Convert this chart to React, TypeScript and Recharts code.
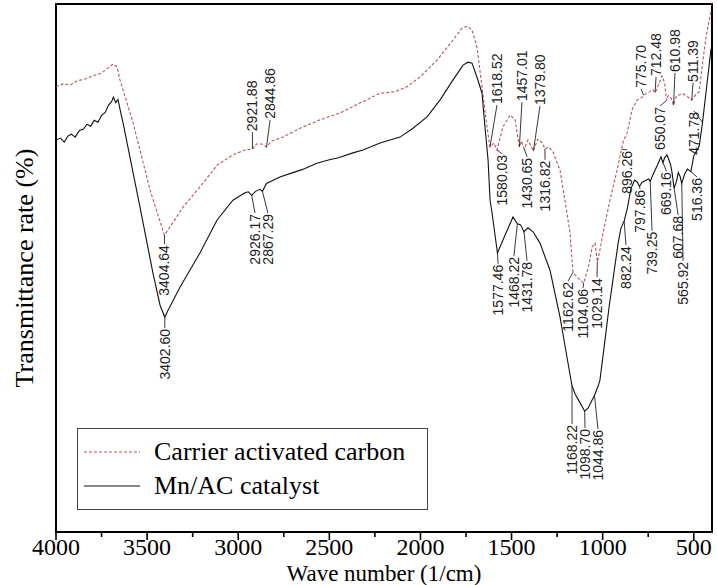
import { LineChart, Line, XAxis, YAxis, ReferenceArea, ReferenceLine, ReferenceDot, Legend } from 'recharts';

// FTIR spectra, wave number (1/cm) against transmittance (arbitrary %)
const carrierWn = [
  4000, 3960, 3920, 3885, 3840, 3797, 3750, 3715, 3687, 3665, 3649, 3577, 3484, 3405, 3374, 3303, 3210,
  3116, 3029, 2963, 2922, 2900, 2870, 2845, 2815, 2754, 2661, 2551, 2441, 2332, 2222, 2140, 2074, 2002,
  1909, 1821, 1772, 1744, 1717, 1690, 1662, 1635, 1618.5, 1597, 1580, 1547, 1508, 1481, 1457, 1445, 1431,
  1410, 1380, 1356, 1330, 1317, 1295, 1273, 1234, 1196, 1179, 1163, 1135, 1104, 1075, 1058, 1042, 1029,
  1015, 998, 960, 921, 896, 885, 866, 839, 811, 784, 776, 757, 724, 712, 690, 674, 660, 650, 640, 623, 611,
  595, 560, 535, 511, 490, 470, 450, 430, 405,
];
const carrierT = [
  83.2, 83.8, 83.6, 84.4, 84.8, 85.4, 86.0, 87.0, 87.8, 87.2, 84.6, 75.9, 62.3, 53.1, 54.8, 58.8, 62.9,
  67.3, 69.4, 70.4, 70.6, 71.6, 71.6, 71.0, 72.2, 73.0, 74.8, 76.5, 77.9, 79.9, 81.9, 82.2, 83.2, 85.2,
  88.6, 92.7, 95.1, 95.5, 94.7, 91.3, 83.2, 75.1, 71.0, 71.8, 70.4, 75.1, 77.5, 76.5, 71.0, 72.2, 70.6,
  72.4, 70.2, 72.6, 71.8, 70.6, 71.0, 70.0, 66.3, 57.6, 53.5, 45.6, 44.4, 43.4, 47.1, 50.7, 51.5, 47.7,
  50.1, 53.5, 60.2, 66.3, 70.6, 72.4, 73.8, 78.5, 80.5, 81.1, 81.5, 81.9, 82.6, 82.0, 84.0, 85.4, 84.0,
  80.4, 81.4, 80.8, 79.5, 81.4, 81.8, 81.2, 80.5, 81.6, 82.2, 88.6, 94.0, 98.5,
];

const catalystWn = [
  4000, 3975, 3955, 3935, 3915, 3895, 3870, 3850, 3830, 3810, 3790, 3770, 3750, 3730, 3710, 3695, 3685,
  3672, 3660, 3645, 3632, 3539, 3468, 3429, 3403, 3385, 3319, 3210, 3116, 3029, 2963, 2945, 2926, 2905,
  2880, 2867, 2845, 2771, 2700, 2650, 2568, 2500, 2450, 2370, 2315, 2222, 2112, 2041, 1964, 1893, 1821,
  1766, 1739, 1717, 1690, 1662, 1646, 1629, 1618, 1607, 1577.5, 1536, 1492, 1468, 1450, 1432, 1410, 1382,
  1344, 1289, 1234, 1196, 1168, 1150, 1130, 1099, 1080, 1060, 1045, 1025, 1015, 990, 965, 940, 915, 900,
  882, 865, 845, 825, 810, 798, 785, 765, 748, 739, 725, 700, 680, 669, 660, 647, 628, 620, 608, 595, 585,
  575, 566, 550, 535, 516, 500, 482, 470, 452, 430, 405,
];
const catalystT = [
  72.4, 72.8, 72.0, 73.2, 73.6, 73.0, 74.4, 74.6, 75.6, 75.2, 76.4, 76.0, 77.4, 78.0, 79.6, 80.2, 81.1,
  80.0, 80.6, 78.0, 75.9, 58.8, 45.4, 38.9, 36.5, 37.9, 42.6, 49.5, 56.2, 60.2, 61.7, 61.9, 61.2, 62.0,
  62.4, 62.0, 63.6, 64.9, 65.8, 66.4, 67.7, 68.4, 68.8, 69.8, 70.4, 71.8, 73.0, 74.8, 77.1, 80.5, 84.6,
  87.6, 88.2, 88.0, 85.2, 81.9, 75.1, 68.4, 60.2, 57.6, 49.5, 53.1, 56.8, 55.4, 55.2, 53.8, 54.6, 53.8,
  51.5, 46.0, 36.5, 28.4, 22.5, 20.8, 19.5, 17.4, 18.0, 19.5, 20.6, 22.5, 23.7, 31.0, 38.5, 45.0, 51.5, 54.5,
  56.0, 58.5, 62.5, 64.3, 63.9, 63.0, 63.8, 64.2, 64.5, 64.0, 65.3, 67.3, 69.0, 67.8, 68.8, 69.4, 67.5, 66.0,
  62.6, 64.0, 65.8, 65.0, 63.6, 65.5, 66.5, 66.0, 69.2, 70.4, 71.2, 76.0, 83.0, 91.0,
];

const majorTicks = [4000, 3500, 3000, 2500, 2000, 1500, 1000, 500];
const minorTicks = [3750, 3250, 2750, 2250, 1750, 1250, 750];

const carrierPeaks = [
  3404.64, 2921.88, 2844.86, 1618.52, 1580.03, 1457.01, 1430.65, 1379.8, 1316.82, 1162.62, 1104.06,
  1029.14, 896.26, 775.7, 712.48, 650.07, 610.98, 511.39,
];
const catalystPeaks = [
  3402.6, 2926.17, 2867.29, 1577.46, 1468.22, 1431.78, 1168.22, 1098.7, 1044.86, 882.24, 797.86, 739.25,
  669.16, 607.68, 565.92, 516.36, 471.78,
];

// where each peak label's text starts: [wave number, transmittance, 'u' above / 'd' below, anchor override]
const carrierLabelPos: [number, number, string, number?][] = [
  [3405, 51.3, 'd'], [2922, 74.0, 'u'], [2825, 76.5, 'u'], [1580, 79.5, 'u'], [1552, 69.6, 'd'],
  [1443, 80.1, 'u'], [1415, 69.0, 'd'], [1344, 79.3, 'u'], [1316, 68.4, 'd'], [1190, 43.8, 'd'],
  [1108, 42.4, 'd'], [1031, 44.6, 'd'], [866, 70.4, 'd'], [789, 82.8, 'u'], [707, 85.2, 'u'],
  [685, 79.3, 'd'], [603, 86.0, 'u'], [504, 84.0, 'u'],
];
const catalystLabelPos: [number, number, string, number?][] = [
  [3403, 34.3, 'd'], [2908, 57.6, 'd'], [2837, 57.6, 'd'], [1574, 47.3, 'd'], [1487, 48.9, 'd'],
  [1415, 47.9, 'd'], [1168, 14.8, 'd'], [1097, 14.0, 'd'], [1026, 13.8, 'd'], [872, 51.1, 'd'],
  [795, 62.5, 'd'], [729, 54.0, 'd'], [650, 66.1, 'd'], [586, 57.2, 'd'], [559, 47.9, 'd'],
  [482, 64.9, 'd'], [499, 78.3, 'd', 452],
];

const T_FLOOR = -7.1; // bottom of the frame, the axis carries no values

const carrierData = carrierWn.map((wn, i) => ({ wn, t: carrierT[i] }));
const catalystData = catalystWn.map((wn, i) => ({ wn, t: catalystT[i] }));

const SERIF = "'Liberation Serif', 'Times New Roman', serif";
const SANS = "'Liberation Sans', Arial, sans-serif";
const RED = '#b9545c';

// linear lookup of a spectrum at a wave number (arrays run high -> low)
const valueAt = (wns: number[], ts: number[], w: number) => {
  for (let i = 0; i < wns.length - 1; i++) {
    if (w <= wns[i] && w >= wns[i + 1]) {
      const f = (wns[i] - w) / (wns[i] - wns[i + 1]);
      return ts[i] + f * (ts[i + 1] - ts[i]);
    }
  }
  return ts[ts.length - 1];
};

const buildLabels = (peaks: number[], pos: [number, number, string, number?][], wns: number[], ts: number[]) =>
  peaks.map((p, i) => {
    const [tx, ty, dir, anchor] = pos[i];
    const aw = anchor ?? p;
    return { text: p.toFixed(2), aw, at: valueAt(wns, ts, aw), tx, ty, dir };
  });

const labels = [
  ...buildLabels(carrierPeaks, carrierLabelPos, carrierWn, carrierT),
  ...buildLabels(catalystPeaks, catalystLabelPos, catalystWn, catalystT),
];

const PeakText = ({ cx, cy, text, dir }: any) => {
  const y = dir === 'u' ? cy - 1 : cy + 1;
  return (
    <text
      x={cx}
      y={y}
      transform={`rotate(-90 ${cx} ${y})`}
      textAnchor={dir === 'u' ? 'start' : 'end'}
      dominantBaseline="central"
      fontSize={14}
      fontFamily={SANS}
      fill="#222"
    >
      {text}
    </text>
  );
};

const WaveTick = ({ x, y, payload }: any) => {
  const major = majorTicks.includes(payload.value);
  return (
    <g>
      <line x1={x} y1={y} x2={x} y2={y + (major ? 8 : 5)} stroke="#000" strokeWidth={1.6} />
      {major && (
        <text x={x} y={y + 23} textAnchor="middle" fontSize={24} fontFamily={SERIF} fill="#000">
          {payload.value}
        </text>
      )}
    </g>
  );
};

const YTitle = ({ viewBox }: any) => {
  const cx = viewBox.x + 24;
  const cy = viewBox.y + viewBox.height / 2;
  return (
    <text
      x={cx}
      y={cy}
      transform={`rotate(-90 ${cx} ${cy})`}
      textAnchor="middle"
      dominantBaseline="central"
      fontSize={26}
      fontFamily={SERIF}
      fill="#000"
    >
      Transmittance rate (%)
    </text>
  );
};

const renderLegend = ({ payload }: any) => (
  <div
    style={{
      boxSizing: 'border-box',
      width: 351,
      height: 82,
      border: '1.5px solid #444',
      background: '#fff',
      padding: '6px 0 0 6px',
      fontFamily: SERIF,
      fontSize: 26,
      lineHeight: '34px',
      color: '#000',
    }}
  >
    {(payload || []).map((entry: any) => (
      <div key={entry.value} style={{ display: 'flex', alignItems: 'center', height: 34 }}>
        <svg width={56} height={6} style={{ flex: 'none' }}>
          <line
            x1={0}
            y1={3}
            x2={56}
            y2={3}
            stroke={entry.color}
            strokeWidth={1.2}
            strokeDasharray={entry.payload?.strokeDasharray}
          />
        </svg>
        <span style={{ marginLeft: 14, whiteSpace: 'nowrap' }}>{entry.value}</span>
      </div>
    ))}
  </div>
);

const App = () => {
  return (
    <div style={{ position: 'absolute', left: 0, top: 0, width: 717, height: 585, background: '#fff' }}>
      <LineChart width={717} height={585} margin={{ top: 4, right: 5, bottom: 0, left: 0 }}>
        <XAxis
          dataKey="wn"
          type="number"
          domain={[400, 4000]}
          reversed
          allowDataOverflow
          ticks={[...majorTicks, ...minorTicks].sort((a, b) => b - a)}
          interval={0}
          tick={<WaveTick />}
          tickLine={false}
          axisLine={false}
          tickSize={0}
          tickMargin={0}
          height={53}
          label={{ value: 'Wave number (1/cm)', position: 'insideBottom', offset: 4, fontSize: 23, fontFamily: SERIF, fill: '#000' }}
        />
        <YAxis type="number" domain={[T_FLOOR, 100]} width={56} tick={false} tickLine={false} axisLine={false} label={YTitle} />
        <Line
          data={carrierData}
          dataKey="t"
          name="Carrier activated carbon"
          stroke={RED}
          strokeWidth={1.1}
          strokeDasharray="3 2"
          dot={false}
          isAnimationActive={false}
        />
        <Line
          data={catalystData}
          dataKey="t"
          name="Mn/AC catalyst"
          stroke="#111"
          strokeWidth={1.1}
          dot={false}
          isAnimationActive={false}
        />
        {labels.map((l, i) => (
          <ReferenceLine
            key={`lead-${i}`}
            segment={[{ x: l.aw, y: l.at }, { x: l.tx, y: l.ty }]}
            stroke="#222"
            strokeWidth={0.9}
            ifOverflow="visible"
          />
        ))}
        {labels.map((l, i) => (
          <ReferenceDot
            key={`txt-${i}`}
            x={l.tx}
            y={l.ty}
            r={0}
            ifOverflow="visible"
            shape={(p: any) => <PeakText cx={p.cx} cy={p.cy} text={l.text} dir={l.dir} />}
          />
        ))}
        <ReferenceArea x1={400} x2={4000} y1={T_FLOOR} y2={100} fill="none" stroke="#000" strokeWidth={2} />
        <Legend
          layout="horizontal"
          verticalAlign="middle"
          align="center"
          content={renderLegend}
          wrapperStyle={{ left: 77, top: 428, width: 351, height: 82 }}
        />
      </LineChart>
    </div>
  );
};

export default App;
